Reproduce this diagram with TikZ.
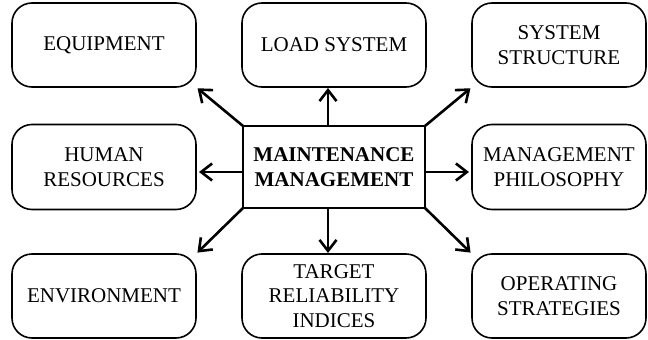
\documentclass[tikz,border=0pt]{standalone}
\usepackage{fontspec}
\setmainfont{Liberation Serif}
\usetikzlibrary{arrows.meta}
\begin{document}
\begin{tikzpicture}[x=1pt,y=-1pt,
  factor/.style={draw, line width=1.6pt, rounded corners=20pt, align=center,
    minimum width=184pt, minimum height=84pt, inner sep=0pt, outer sep=0pt,
    font=\fontsize{21}{24.5}\selectfont},
  central/.style={draw, line width=1.6pt, align=center,
    minimum width=182pt, minimum height=82pt, inner sep=0pt, outer sep=0pt,
    font=\fontsize{21}{24.5}\selectfont\bfseries},
  link/.style={line width=2.6pt, -{Straight Barb[length=11pt,width=17pt,line width=2.6pt]}},
  diag/.style={link, shorten >=2pt}
]
\useasboundingbox (0,0) rectangle (648,340);
\node[factor] (eq) at (104,45) {EQUIPMENT};
\node[factor] (load) at (334,45) {LOAD SYSTEM};
\node[factor, minimum width=174pt] (struct) at (559,45) {SYSTEM\\STRUCTURE};
\node[factor, minimum height=85pt] (human) at (104,167) {HUMAN\\RESOURCES};
\node[factor, minimum width=174pt, minimum height=85pt] (phil) at (559,167) {MANAGEMENT\\PHILOSOPHY};
\node[factor] (env) at (104,296) {ENVIRONMENT};
\node[factor] (target) at (334,296) {TARGET\\RELIABILITY\\INDICES};
\node[factor, minimum width=174pt] (oper) at (559,296) {OPERATING\\STRATEGIES};
\node[central] (c) at (334,167) {MAINTENANCE\\MANAGEMENT};
\draw[diag] (c.north west) -- (eq.south east);
\draw[link] ([xshift=-6pt]c.north) -- ([xshift=-6pt,yshift=-1pt]load.south);
\draw[diag] (c.north east) -- (struct.south west);
\draw[link] ([yshift=-5pt]c.west) -- ([xshift=3pt,yshift=-5pt]human.east);
\draw[link] ([yshift=-5pt]c.east) -- ([xshift=-3pt,yshift=-5pt]phil.west);
\draw[diag] (c.south west) -- (env.north east);
\draw[link] ([xshift=-6pt]c.south) -- ([xshift=-6pt,yshift=1pt]target.north);
\draw[diag] (c.south east) -- (oper.north west);
\end{tikzpicture}
\end{document}
